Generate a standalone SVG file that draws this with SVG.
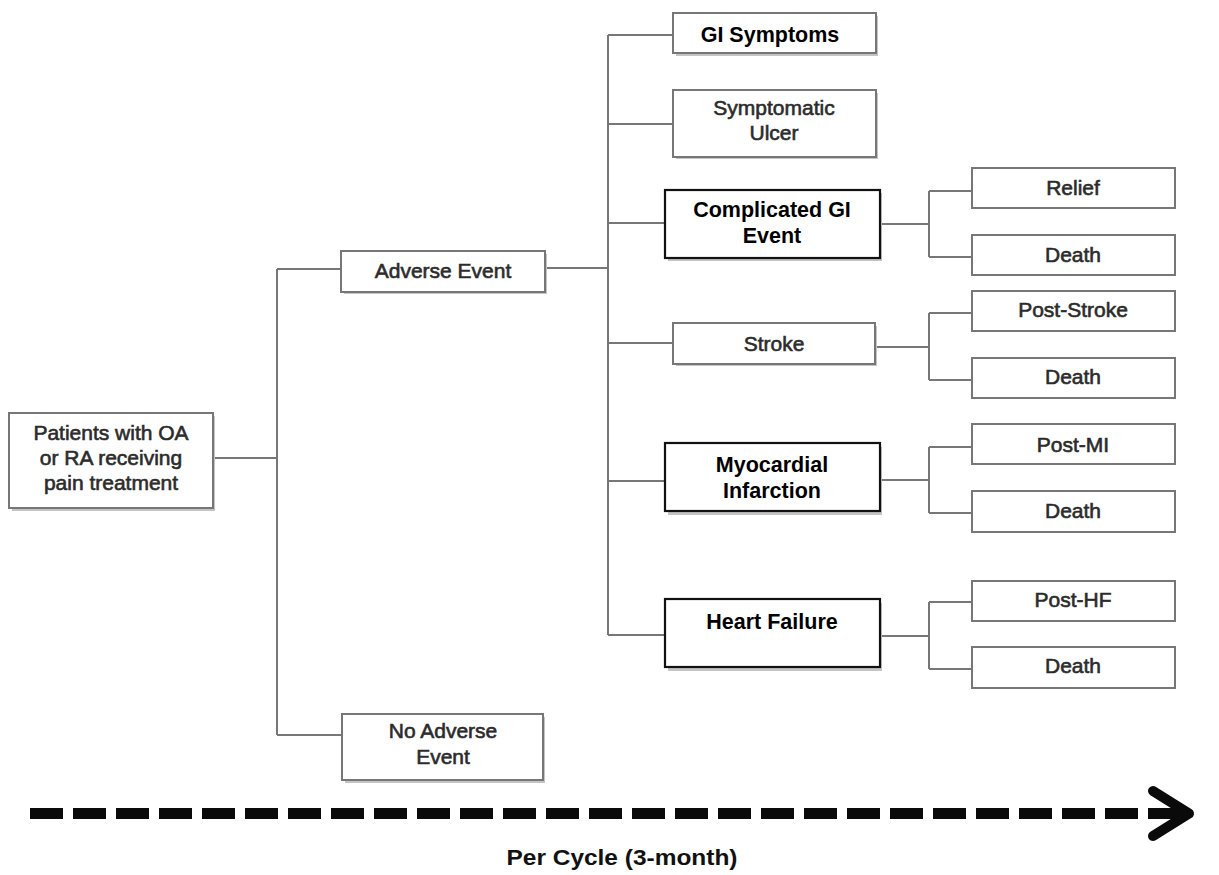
<svg xmlns="http://www.w3.org/2000/svg" width="1219" height="875" viewBox="0 0 1219 875">
<style>
.box{fill:#fff;stroke:#777;stroke-width:2}
.bbox{fill:#fff;stroke:#111;stroke-width:2.2}
.sh{fill:#c4c4c4}
.t{font-family:"Liberation Sans",Arial,sans-serif;font-size:21px;fill:#2b2b2b;stroke:#2b2b2b;stroke-width:0.6;text-anchor:middle}
.bt{font-family:"Liberation Sans",Arial,sans-serif;font-size:21.5px;font-weight:bold;fill:#000;text-anchor:middle}
.c{fill:none;stroke:#777;stroke-width:2}
</style>
<rect width="1219" height="875" fill="#fff"/>
<g id="connectors">
<path class="c" d="M213 458H277M277 269V735M277 269H342M277 735H342"/>
<path class="c" d="M545 268H608M608 35V635M608 35H673M608 124H673M608 223H665M608 343H673M608 481H665M608 635H665"/>
<path class="c" d="M880 224H929M929 191V257M929 191H972M929 257H972"/>
<path class="c" d="M875 347H929M929 313V380M929 313H972M929 380H972"/>
<path class="c" d="M880 480H929M929 447V513M929 447H972M929 513H972"/>
<path class="c" d="M880 636H929M929 602V669M929 602H972M929 669H972"/>
</g>
<g id="n-patients"><rect class="sh" x="12" y="416" width="203" height="95"/><rect class="box" x="9" y="413" width="204" height="95"/><text class="t" x="111" y="440">Patients with OA</text><text class="t" x="111" y="465">or RA receiving</text><text class="t" x="111" y="490">pain treatment</text></g>
<g id="n-adverse"><rect class="sh" x="344" y="254" width="203" height="40"/><rect class="box" x="341" y="251" width="204" height="41"/><text class="t" x="443" y="278">Adverse Event</text></g>
<g id="n-noadverse"><rect class="sh" x="345" y="717" width="200" height="66"/><rect class="box" x="342" y="714" width="201" height="66"/><text class="t" x="443" y="738">No Adverse</text><text class="t" x="443" y="764">Event</text></g>
<g id="n-gi"><rect class="sh" x="676" y="16" width="202" height="40"/><rect class="box" x="673" y="13" width="203" height="40"/><text class="bt" x="770" y="42">GI Symptoms</text></g>
<g id="n-ulcer"><rect class="sh" x="676" y="93" width="202" height="66"/><rect class="box" x="673" y="90" width="203" height="67"/><text class="t" x="774" y="115">Symptomatic</text><text class="t" x="774" y="140">Ulcer</text></g>
<g id="n-cgi"><rect class="sh" x="668" y="193" width="214" height="68"/><rect class="bbox" x="665" y="190" width="215" height="68"/><text class="bt" x="772" y="217">Complicated GI</text><text class="bt" x="772" y="243">Event</text></g>
<g id="n-stroke"><rect class="sh" x="676" y="326" width="201" height="40"/><rect class="box" x="673" y="323" width="202" height="41"/><text class="t" x="774" y="351">Stroke</text></g>
<g id="n-mi"><rect class="sh" x="668" y="447" width="214" height="68"/><rect class="bbox" x="665" y="443" width="215" height="68"/><text class="bt" x="772" y="472">Myocardial</text><text class="bt" x="772" y="498">Infarction</text></g>
<g id="n-hf"><rect class="sh" x="668" y="603" width="214" height="68"/><rect class="bbox" x="665" y="599" width="215" height="68"/><text class="bt" x="772" y="629">Heart Failure</text></g>
<g id="n-relief"><rect class="box" x="972" y="168" width="203" height="40"/><text class="t" x="1073" y="195">Relief</text></g>
<g id="n-death1"><rect class="box" x="972" y="235" width="203" height="40"/><text class="t" x="1073" y="262">Death</text></g>
<g id="n-poststroke"><rect class="box" x="972" y="291" width="203" height="40"/><text class="t" x="1073" y="317">Post-Stroke</text></g>
<g id="n-death2"><rect class="box" x="972" y="358" width="203" height="40"/><text class="t" x="1073" y="384">Death</text></g>
<g id="n-postmi"><rect class="box" x="972" y="424" width="203" height="40"/><text class="t" x="1073" y="452">Post-MI</text></g>
<g id="n-death3"><rect class="box" x="972" y="491" width="203" height="41"/><text class="t" x="1073" y="518">Death</text></g>
<g id="n-posthf"><rect class="box" x="972" y="581" width="203" height="40"/><text class="t" x="1073" y="607">Post-HF</text></g>
<g id="n-death4"><rect class="box" x="972" y="647" width="203" height="41"/><text class="t" x="1073" y="673">Death</text></g>
<g id="timeline">
<line x1="30" y1="813.5" x2="1183" y2="813.5" stroke="#0a0a0a" stroke-width="11" stroke-dasharray="33 10"/>
<polyline points="1153,791 1189,813.5 1153,836" fill="none" stroke="#0a0a0a" stroke-width="10" stroke-linecap="round" stroke-linejoin="round"/>
<text x="622" y="865" font-family="'Liberation Sans',Arial,sans-serif" font-size="22" font-weight="bold" fill="#111" text-anchor="middle" textLength="231" lengthAdjust="spacingAndGlyphs">Per Cycle (3-month)</text>
</g>
</svg>
